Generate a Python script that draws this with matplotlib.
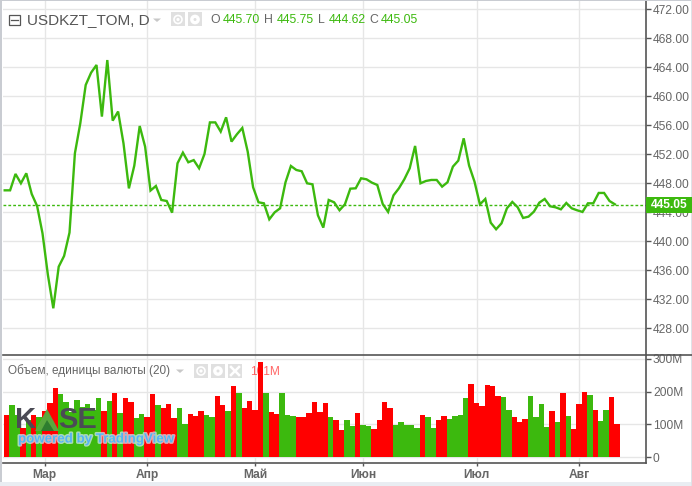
import matplotlib
matplotlib.use("Agg")
import matplotlib.pyplot as plt
import matplotlib.patheffects as pe
from matplotlib.patches import Rectangle, Polygon, Circle

W, H = 692, 486
GREEN = "#3cb90e"
RED = "#ff0000"
GRID = "#e6e6e6"
AXC = "#555555"
TXT = "#666666"

close_prices = [
    447.03, 447.03, 449.29, 448.0, 449.38, 446.53, 444.87, 441.1, 435.36, 430.76,
    436.5, 437.98, 441.2, 452.14, 456.28, 461.56, 463.26, 464.32, 457.2, 465.0,
    456.64, 457.9, 453.5, 447.3, 450.44, 455.9, 453.06, 447.0, 447.63, 445.7,
    445.56, 443.95, 450.76, 452.23, 450.9, 451.2, 450.07, 452.05, 456.4, 456.4,
    455.13, 457.1, 453.75, 454.76, 455.63, 452.37, 447.45, 445.38, 445.24, 443.03,
    444.0, 444.55, 448.14, 450.39, 449.84, 449.66, 448.0, 447.86, 443.59, 441.89,
    445.7, 445.38, 444.28, 445.1, 447.26, 447.31, 448.69, 448.55, 448.09, 447.77,
    445.15, 444.05, 446.34, 447.31, 448.55, 450.07, 453.15, 448.0, 448.32, 448.46,
    448.46, 447.54, 448.14, 450.3, 451.13, 454.2, 450.44, 448.23, 445.1, 445.84,
    442.57, 441.66, 442.48, 444.55, 445.43, 444.69, 443.22, 443.4, 444.09, 445.33,
    445.84, 444.83, 444.69, 444.41, 445.29, 444.55, 444.28, 444.05, 445.24, 445.24,
    446.67, 446.67, 445.56, 445.1,
]
# volume in millions, per bar
volumes = [
    129, 159, 129, 90, 113, 129, 123, 141, 166, 211,
    193, 169, 139, 174, 152, 162, 144, 181, 140, 171,
    196, 135, 181, 169, 120, 131, 123, 193, 159, 150,
    162, 119, 150, 101, 132, 126, 141, 129, 123, 187,
    159, 141, 217, 196, 150, 171, 144, 291, 196, 138,
    132, 196, 129, 126, 123, 123, 135, 169, 138, 165,
    123, 113, 83, 113, 95, 134, 98, 95, 86, 113,
    168, 150, 98, 107, 98, 98, 89, 128, 122, 89,
    113, 126, 117, 126, 129, 181, 223, 165, 156, 220,
    217, 186, 183, 144, 122, 107, 116, 186, 122, 162,
    92, 141, 107, 196, 125, 86, 162, 199, 190, 144,
    110, 144, 184, 101,
]
vol_colors = list(
    "rggrgrgrrr" "ggggggggrg" "rgrrggrrgr" "rrggrrrggr" "rgrgrrrrgr" "rgggrrrrrr"
    "grrggrggrr" "rrgggggrgg" "rrggggrrrr" "rrggrrrggg" "grgrgrrrgr" "ggrr"
)
months = ["Мар", "Апр", "Май", "Июн", "Июл", "Авг"]
month_idx = [7, 26, 46, 66, 87, 106]
price_ticks = [428, 432, 436, 440, 444, 448, 452, 456, 460, 464, 468, 472]
volume_ticks = [0, 100, 200, 300]
volume_labels = ["0", "100M", "200M", "300M"]
last_price = 445.05

plt.rcParams["font.family"] = ["Liberation Sans", "DejaVu Sans"]
fig = plt.figure(figsize=(W / 100, H / 100), dpi=100, facecolor="white")


def axpx(l, t, r, b):
    return fig.add_axes([l / W, 1 - b / H, (r - l) / W, (b - t) / H])


XL, XR = 3, 646
xlim = ((XL - 6.7) / 5.4, (XR - 6.7) / 5.4)

ax = axpx(XL, 1, XR, 355)
vax = axpx(XL, 355, XR, 463)

# price pane
ax.set_xlim(*xlim)
ax.set_ylim(448 - (355 - 183.3) / 7.25, 448 + (183.3 - 1) / 7.25)
ax.set_yticks(price_ticks)
ax.set_yticklabels([f"{v:.2f}" for v in price_ticks])
ax.set_xticks(month_idx)
ax.tick_params(axis="x", length=0, labelbottom=False)
ax.yaxis.tick_right()
ax.tick_params(axis="y", length=3.6, width=1, color=AXC, labelcolor=TXT,
               labelsize=8.64, pad=1.4)
ax.grid(True, color=GRID, lw=1)
ax.set_axisbelow(True)
ax.plot([i - 0.37 for i in range(len(close_prices))], close_prices,
        color=GREEN, lw=1.7, solid_joinstyle="miter", zorder=3)
ax.axhline(last_price, color=GREEN, lw=1, ls=(0, (2, 1.5)), zorder=2)
for s in ("top", "left", "bottom"):
    ax.spines[s].set_visible(False)
ax.spines["right"].set_color(AXC)
ax.spines["right"].set_linewidth(1.2)

# volume pane
vax.set_xlim(*xlim)
vax.set_ylim(-(463 - 457) / 0.3267, (457 - 355) / 0.3267)
vax.set_yticks(volume_ticks)
vax.set_yticklabels(volume_labels)
vax.yaxis.tick_right()
vax.set_xticks(month_idx)
vax.set_xticklabels(months, fontweight="bold")
vax.tick_params(axis="y", length=3.6, width=1, color=AXC, labelcolor=TXT,
                labelsize=8.64, pad=1.4)
vax.tick_params(axis="x", length=2.5, width=1, color=AXC, labelcolor=TXT,
                labelsize=8.64, pad=1.5)
vax.grid(True, color=GRID, lw=1)
vax.set_axisbelow(True)
vax.bar(range(len(volumes)), volumes, width=1.0,
        color=[GREEN if c == "g" else RED for c in vol_colors], lw=0, zorder=3)
for s in ("left", "top"):
    vax.spines[s].set_visible(False)
for s in ("right", "bottom"):
    vax.spines[s].set_color(AXC)
    vax.spines[s].set_linewidth(1.2)

# overlay in pixel coordinates for the chart's chrome
ov = fig.add_axes([0, 0, 1, 1], facecolor="none")
ov.set_xlim(0, W)
ov.set_ylim(H, 0)
ov.axis("off")
ov.set_zorder(10)

# frame and page background
ov.add_patch(Rectangle((0, 0), W, 1.2, color="#c9ccd2", lw=0))
ov.add_patch(Rectangle((0, 0), 2.2, H, color="#c9ccd2", lw=0))
ov.add_patch(Rectangle((0, 482), W, 4, color="#e9edf2", lw=0))
ov.add_patch(Rectangle((690.5, 0), 1.5, H, color="#dfe2e7", lw=0))
ov.plot([XL, 692], [355, 355], color=AXC, lw=1.2)

# price tag
ov.add_patch(Rectangle((646, 197), 46, 15.5, color=GREEN, lw=0))
ov.text(669, 205, f"{last_price:.2f}", color="white", fontweight="bold",
        fontsize=8.64, ha="center", va="center")

# legend, price pane
ov.add_patch(Rectangle((8.5, 15.5), 11.5, 10, fc="white", ec="#555555", lw=0.9))
ov.plot([10.5, 18], [20.5, 20.5], color="#555555", lw=0.9)
ov.text(27, 20.5, "USDKZT_TOM, D", color="#555555", fontsize=11,
        ha="left", va="center")
ov.add_patch(Polygon([[153, 18.5], [161, 18.5], [157, 22]], color="#c8c8c8", lw=0))


def icon_box(x, y, w=14, h=14, kind="eye"):
    ov.add_patch(Rectangle((x, y), w, h, color="#e0e0e0", lw=0))
    cx, cy = x + w / 2, y + h / 2
    if kind == "eye":
        ov.add_patch(Circle((cx, cy), 4, fc="none", ec="white", lw=1.2))
        ov.add_patch(Circle((cx, cy), 1.6, fc="white", lw=0))
    elif kind == "gear":
        ov.add_patch(Circle((cx, cy), 3.2, fc="none", ec="white", lw=2.4))
    else:
        ov.plot([cx - 4, cx + 4], [cy - 4, cy + 4], color="white", lw=1.8)
        ov.plot([cx - 4, cx + 4], [cy + 4, cy - 4], color="white", lw=1.8)


icon_box(171, 12.5, kind="eye")
icon_box(188, 12.5, kind="gear")

ohlc = [(210, "O", "#666666"), (223, "445.70", GREEN), (264, "H", "#666666"),
        (277, "445.75", GREEN), (318, "L", "#666666"), (329, "444.62", GREEN),
        (369, "C", "#666666"), (381, "445.05", GREEN)]
for x, s, c in ohlc:
    ov.text(x, 20, s, color=c, fontsize=8.8, ha="left", va="center")

# legend, volume pane
ov.text(8, 371, "Объем, единицы валюты (20)", color="#666666", fontsize=8.5,
        ha="left", va="center")
ov.add_patch(Polygon([[176, 369.5], [184, 369.5], [180, 373]], color="#c8c8c8", lw=0))
icon_box(194, 364, kind="eye")
icon_box(211, 364, kind="gear")
icon_box(228, 364, kind="x")
ov.text(250, 371.5, "101M", color="#ff0000", alpha=0.6, fontsize=8.6,
        ha="left", va="center")

# watermark
ov.text(15, 420, "K", color="#4b4b55", fontsize=21, fontweight="bold", ha="left", va="center")
ov.add_patch(Polygon([[35, 431], [47, 409], [59, 431]], color="#5aa83e", lw=0))
ov.add_patch(Polygon([[41, 431], [47, 420], [54, 431]], color="#2e7d2f", lw=0))
ov.text(58, 420, "SE", color="#4b4b55", fontsize=21, fontweight="bold", ha="left", va="center")
ov.text(18, 439.5, "powered by TradingView", color="#55b4ee", fontsize=9.6,
        fontweight="bold", ha="left", va="center",
        path_effects=[pe.withStroke(linewidth=2, foreground=(0.85, 0.92, 0.96, 0.7))])

fig.savefig("out.png", dpi=100, facecolor="white")
